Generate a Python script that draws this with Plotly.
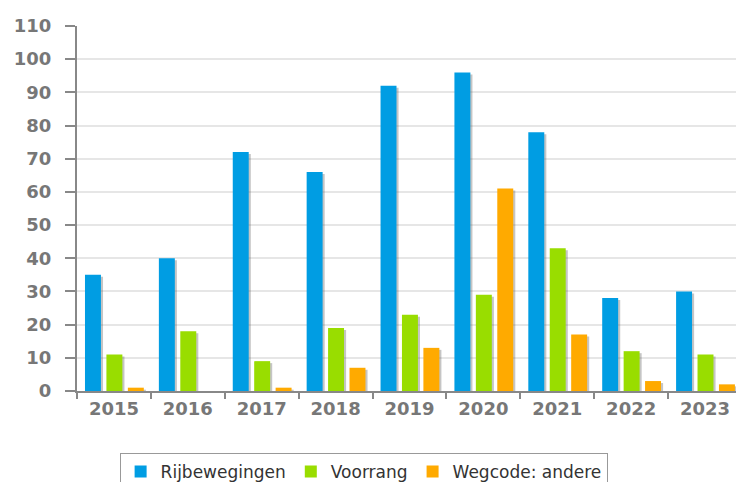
import plotly.graph_objects as go

years = ["2015", "2016", "2017", "2018", "2019", "2020", "2021", "2022", "2023"]
rijbewegingen = [35, 40, 72, 66, 92, 96, 78, 28, 30]
voorrang = [11, 18, 9, 19, 23, 29, 43, 12, 11]
wegcode_andere = [1, 0, 1, 7, 13, 61, 17, 3, 2]
series_names = ["Rijbewegingen", "Voorrang", "Wegcode: andere"]
colors = ["#009de3", "#99dd00", "#ffaa00"]

BAR_W = 0.216
OFFSETS = [-0.392, -0.102, 0.188]
SHADOW_DX = 0.028
SHADOW_DY = 0.6

fig = go.Figure()
all_vals = [rijbewegingen, voorrang, wegcode_andere]
# soft drop shadows under the bars
for vals, off in zip(all_vals, OFFSETS):
    fig.add_trace(go.Bar(
        x=years, y=[max(v - SHADOW_DY, 0) for v in vals],
        offset=off + SHADOW_DX, width=BAR_W,
        marker=dict(color="rgba(90,90,90,0.35)", line=dict(width=0)),
        showlegend=False, hoverinfo="skip",
    ))
for name, vals, col, off in zip(series_names, all_vals, colors, OFFSETS):
    fig.add_trace(go.Bar(
        x=years, y=vals, name=name, offset=off, width=BAR_W,
        marker=dict(color=col, line=dict(width=0)),
    ))

fig.update_layout(
    width=736, height=500,
    margin=dict(l=69, r=2, t=18, b=117),
    paper_bgcolor="white", plot_bgcolor="white",
    barmode="overlay",
    font=dict(family="DejaVu Sans", color="#777"),
    legend=dict(orientation="h", x=0.431, xanchor="center", y=-0.170, yanchor="top",
                bordercolor="#999", borderwidth=1,
                font=dict(family="DejaVu Sans", size=17, color="#333"),
                itemwidth=30, tracegroupgap=0),
    showlegend=True,
)
fig.update_xaxes(
    type="category", tickson="boundaries", ticks="outside", ticklen=6, tickwidth=2, tickcolor="#888",
    showline=True, linecolor="#888", linewidth=2, showgrid=False, automargin=False,
    tickfont=dict(family="DejaVu Sans", size=18, color="#777", weight="bold"),
)
fig.update_yaxes(
    range=[0, 110], dtick=10, tick0=0, ticks="outside", ticklen=10, tickwidth=2, tickcolor="#888",
    showline=True, linecolor="#888", linewidth=2, showgrid=True, gridcolor="#e6e6e6", gridwidth=2,
    zeroline=False, automargin=False,
    tickfont=dict(family="DejaVu Sans", size=18, color="#777", weight="bold"),
    ticklabelstandoff=10,
)

fig.write_html("out.html")
